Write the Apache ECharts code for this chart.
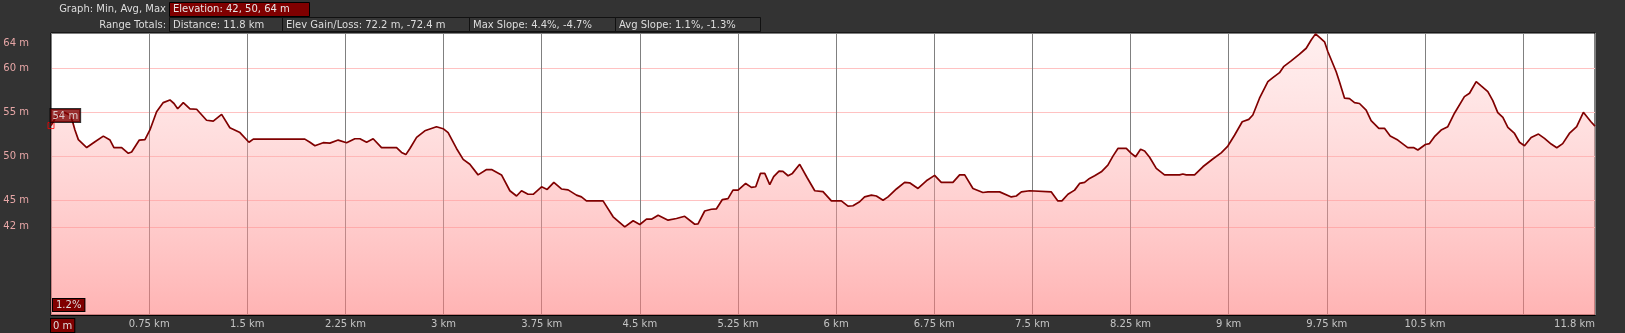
<!DOCTYPE html>
<html>
<head>
<meta charset="utf-8">
<script src="https://cdn.jsdelivr.net/npm/echarts@6/dist/echarts.min.js"></script>
<style>
html,body{margin:0;padding:0;background:#333333;}
#chart{width:1625px;height:333px;}
</style>
</head>
<body>
<div id="chart"></div>
<script>
// ---- data ----
const distanceKm = [
 0, 0.04, 0.10, 0.14, 0.163, 0.183, 0.209, 0.273, 0.336, 0.40, 0.451, 0.481, 0.540, 0.591, 0.616, 0.675, 0.718, 0.756,
 0.807, 0.858, 0.909, 0.940, 0.968, 1.011, 1.062, 1.113, 1.189, 1.240, 1.304, 1.367, 1.444, 1.513, 1.546, 1.940,
 1.979, 2.017, 2.080, 2.131, 2.195, 2.259, 2.322, 2.361, 2.412, 2.462, 2.526, 2.641, 2.679, 2.712, 2.743, 2.794,
 2.857, 2.946, 2.997, 3.035, 3.099, 3.150, 3.201, 3.264, 3.329, 3.367, 3.443, 3.507, 3.558, 3.596, 3.646, 3.685,
 3.749, 3.792, 3.843, 3.901, 3.952, 4.016, 4.054, 4.092, 4.219, 4.296, 4.385, 4.449, 4.500, 4.551, 4.589, 4.640,
 4.716, 4.780, 4.843, 4.920, 4.945, 4.996, 5.047, 5.086, 5.131, 5.174, 5.212, 5.251, 5.309, 5.353, 5.386, 5.422,
 5.455, 5.493, 5.523, 5.564, 5.594, 5.633, 5.666, 5.722, 5.778, 5.837, 5.900, 5.964, 6.040, 6.091, 6.129, 6.180,
 6.218, 6.270, 6.308, 6.359, 6.397, 6.461, 6.524, 6.562, 6.626, 6.690, 6.753, 6.804, 6.893, 6.944, 6.983, 7.046,
 7.122, 7.161, 7.250, 7.339, 7.377, 7.416, 7.479, 7.645, 7.695, 7.726, 7.772, 7.823, 7.861, 7.899, 7.937, 7.976,
 8.027, 8.077, 8.116, 8.154, 8.218, 8.256, 8.289, 8.327, 8.358, 8.396, 8.447, 8.510, 8.625, 8.650, 8.676, 8.740,
 8.803, 8.879, 8.943, 8.994, 9.045, 9.104, 9.154, 9.185, 9.236, 9.300, 9.338, 9.389, 9.420, 9.478, 9.542, 9.593,
 9.631, 9.664, 9.695, 9.733, 9.758, 9.822, 9.847, 9.886, 9.924, 9.962, 10.0, 10.051, 10.089, 10.148, 10.191, 10.235,
 10.293, 10.369, 10.413, 10.446, 10.504, 10.535, 10.573, 10.624, 10.675, 10.726, 10.802, 10.841, 10.892, 10.930,
 10.981, 11.019, 11.057, 11.096, 11.134, 11.185, 11.223, 11.261, 11.312, 11.368, 11.414, 11.465, 11.508, 11.553,
 11.604, 11.660, 11.711, 11.769, 11.80
];
const elevationM = [
 53.5, 54.5, 55.0, 54.7, 54.05, 53.0, 51.9, 51.0, 51.66, 52.3, 51.85, 51.0, 51.0, 50.35, 50.5, 51.85, 51.9, 53.0,
 55.07, 56.1, 56.4, 56.0, 55.4, 56.1, 55.4, 55.35, 54.1, 54.0, 54.77, 53.25, 52.7, 51.6, 51.96, 51.96,
 51.6, 51.2, 51.55, 51.5, 51.85, 51.55, 52.0, 52.0, 51.6, 52.0, 51.0, 51.0, 50.45, 50.2, 50.9, 52.15,
 52.9, 53.36, 53.14, 52.7, 50.9, 49.66, 49.1, 47.9, 48.5, 48.5, 47.9, 46.1, 45.5, 46.1, 45.7, 45.7,
 46.55, 46.25, 47.05, 46.3, 46.2, 45.6, 45.4, 44.95, 44.95, 43.14, 42.0, 42.7, 42.27, 42.87, 42.87, 43.33,
 42.76, 42.95, 43.2, 42.3, 42.35, 43.8, 44.0, 44.05, 45.1, 45.2, 46.17, 46.17, 46.93, 46.48, 46.55, 48.07,
 48.07, 46.8, 47.7, 48.33, 48.3, 47.8, 48.07, 49.1, 47.6, 46.1, 46.0, 44.95, 44.95, 44.35, 44.4, 44.85,
 45.4, 45.6, 45.5, 45.03, 45.4, 46.3, 47.05, 47.0, 46.36, 47.23, 47.84, 47.05, 47.05, 47.9, 47.9, 46.36,
 45.9, 45.97, 45.97, 45.4, 45.5, 45.97, 46.1, 45.97, 44.95, 44.95, 45.7, 46.17, 46.93, 47.05, 47.5, 47.8,
 48.25, 49.0, 50.03, 50.9, 50.9, 50.34, 49.96, 50.8, 50.6, 49.9, 48.64, 47.9, 47.9, 48.0, 47.9, 47.9,
 48.82, 49.7, 50.4, 51.17, 52.4, 53.93, 54.2, 54.7, 56.6, 58.48, 58.93, 59.5, 60.18, 60.83, 61.6, 62.27,
 63.2, 63.9, 63.5, 63.0, 61.9, 59.6, 58.48, 56.6, 56.55, 56.1, 56.0, 55.26, 54.05, 53.18, 53.18, 52.3,
 51.85, 51.0, 51.0, 50.72, 51.35, 51.45, 52.23, 52.99, 53.37, 54.9, 56.78, 57.16, 58.48, 57.99,
 57.34, 56.32, 54.96, 54.43, 53.3, 52.6, 51.6, 51.2, 52.15, 52.53, 52.04, 51.4, 50.98, 51.45,
 52.6, 53.37, 55.0, 53.93, 53.44
];
const xTickValues = [0, 0.75, 1.5, 2.25, 3, 3.75, 4.5, 5.25, 6, 6.75, 7.5, 8.25, 9, 9.75, 10.5, 11.8];
const yLabelValues = [64, 60, 55, 50, 45, 42];
const yGridValues = [60, 55, 50, 45, 42];
const headerTitle = 'Graph: Min, Avg, Max';
const elevationSummary = 'Elevation: 42, 50, 64 m';
const rangeTitle = 'Range Totals:';
const rangeStats = ['Distance: 11.8 km', 'Elev Gain/Loss: 72.2 m, -72.4 m', 'Max Slope: 4.4%, -4.7%', 'Avg Slope: 1.1%, -1.3%'];
const cursorSlope = '1.2%';

// ---- chart ----
const FONT = 'DejaVu Sans';
const chart = echarts.init(document.getElementById('chart'), null, {renderer: 'canvas'});
const lineData = distanceKm.map((d, i) => [d, elevationM[i]]);

const boxX = [169, 282, 469, 615, 760];
const graphics = [
  {type: 'text', x: 166, y: 9, style: {text: headerTitle, align: 'right', verticalAlign: 'middle', fill: '#dddddd', font: '10px ' + FONT}},
  {type: 'rect', shape: {x: 169.5, y: 2.5, width: 140, height: 14}, style: {fill: '#800000', stroke: '#000', lineWidth: 1}},
  {type: 'text', x: 173, y: 9.5, style: {text: elevationSummary, align: 'left', verticalAlign: 'middle', fill: '#e6e6e6', font: '10px ' + FONT}},
  {type: 'text', x: 166, y: 25, style: {text: rangeTitle, align: 'right', verticalAlign: 'middle', fill: '#dddddd', font: '10px ' + FONT}}
];
rangeStats.forEach((t, i) => {
  graphics.push({type: 'rect', shape: {x: boxX[i] + 0.5, y: 17.5, width: boxX[i + 1] - boxX[i], height: 14}, style: {fill: '#363636', stroke: '#111', lineWidth: 1}});
  graphics.push({type: 'text', x: boxX[i] + 4, y: 25, style: {text: t, align: 'left', verticalAlign: 'middle', fill: '#dddddd', font: '10px ' + FONT}});
});
graphics.push({type: 'text', left: 52, top: 298, z: 100, style: {text: cursorSlope, fill: '#dddddd', font: '10px ' + FONT, backgroundColor: '#800000', borderColor: '#000', borderWidth: 1, padding: [1, 3, 1, 3]}});

chart.setOption({
  animation: false,
  backgroundColor: '#333333',
  textStyle: {fontFamily: FONT},
  grid: {left: 51, right: 30, top: 33, bottom: 18, show: true, backgroundColor: '#ffffff', borderColor: '#000', borderWidth: 1},
  xAxis: {
    type: 'value', min: 0, max: 11.8, interval: 0.75,
    axisLine: {show: true, lineStyle: {color: '#000', width: 1}},
    axisTick: {show: false},
    splitLine: {show: true, lineStyle: {color: '#808080', width: 1}},
    axisLabel: {
      customValues: xTickValues,
      color: '#c4c4c4', fontSize: 10, fontFamily: FONT, margin: 4,
      alignMinLabel: 'left', alignMaxLabel: 'right',
      formatter: v => v === 0 ? '{z|0 m}' : v + ' km',
      rich: {z: {backgroundColor: '#800000', borderColor: '#000', borderWidth: 1, padding: [2, 2, 1, 2], color: '#dddddd', fontSize: 10, fontFamily: FONT}}
    }
  },
  yAxis: {
    type: 'value', min: 32, max: 64,
    axisLine: {show: false},
    axisTick: {show: false, customValues: yGridValues},
    splitLine: {show: true, lineStyle: {color: '#ffc2c2', width: 1}},
    axisLabel: {
      customValues: yLabelValues,
      color: '#e6a6a6', fontSize: 10, fontFamily: FONT, margin: 22,
      formatter: v => v === 64 ? '{t|' + v + ' m}' : v + ' m',
      rich: {t: {padding: [21, 0, 0, 0], color: '#e6a6a6', fontSize: 10, fontFamily: FONT}}
    }
  },
  series: [
    {
      type: 'line', data: lineData, showSymbol: false, symbol: 'none', silent: true,
      lineStyle: {color: '#800000', width: 1.7},
      areaStyle: {
        opacity: 1,
        color: new echarts.graphic.LinearGradient(0, 0, 0, 1, [
          {offset: 0, color: 'rgba(255,205,205,0.32)'},
          {offset: 1, color: 'rgba(255,122,122,0.57)'}
        ])
      },
      z: 2
    },
    {
      type: 'scatter', data: [[distanceKm[0], elevationM[0]]], symbol: 'rect', symbolSize: 6, silent: true, z: 5,
      itemStyle: {color: 'rgba(255,255,255,0)', borderColor: '#ff0000', borderWidth: 1},
      label: {
        show: true, position: [3, -13], align: 'left', verticalAlign: 'top',
        formatter: p => Math.round(p.value[1]) + ' m',
        color: '#eeeeee', fontSize: 10, fontFamily: FONT,
        backgroundColor: '#800000', borderColor: '#000', borderWidth: 1, padding: [2, 2, 1, 2]
      }
    }
  ],
  graphic: graphics
});
</script>
</body>
</html>
